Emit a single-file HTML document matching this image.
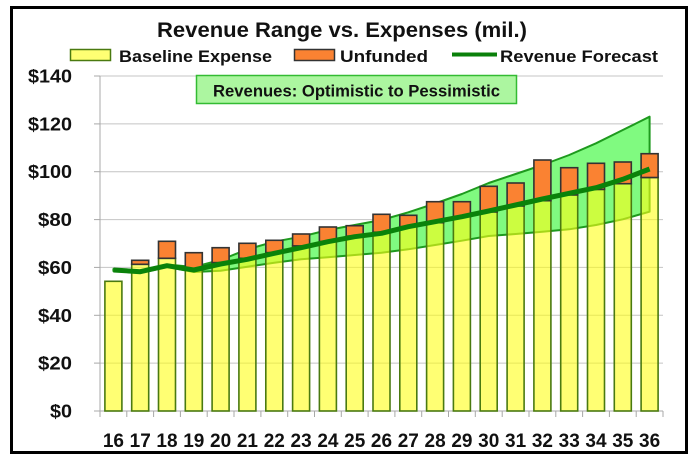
<!DOCTYPE html>
<html><head><meta charset="utf-8"><style>
html,body{margin:0;padding:0;background:#fff;}
svg{display:block;}
text{font-family:"Liberation Sans",Arial,sans-serif;font-weight:bold;fill:#111;}
</style></head><body>
<svg width="699" height="466" viewBox="0 0 699 466" xmlns="http://www.w3.org/2000/svg">
<rect x="0" y="0" width="699" height="466" fill="#fff"/>
<rect x="11.5" y="7.5" width="675" height="445" fill="#fff" stroke="#000" stroke-width="3"/>

<!-- title -->
<text x="157" y="37" font-size="21" textLength="370" lengthAdjust="spacingAndGlyphs">Revenue Range vs. Expenses (mil.)</text>

<!-- legend -->
<rect x="70.5" y="49.5" width="40" height="11" fill="#ffff73" stroke="#4a7a10" stroke-width="1.5"/>
<text x="119" y="62" font-size="17" textLength="153" lengthAdjust="spacingAndGlyphs">Baseline Expense</text>
<rect x="294.5" y="49.5" width="40" height="11" fill="#fa8232" stroke="#333" stroke-width="1.5"/>
<text x="340" y="62" font-size="17" textLength="88" lengthAdjust="spacingAndGlyphs">Unfunded</text>
<line x1="452" y1="54.5" x2="497" y2="54.5" stroke="#0a800a" stroke-width="4"/>
<text x="500" y="62" font-size="17" textLength="158" lengthAdjust="spacingAndGlyphs">Revenue Forecast</text>

<!-- gridlines -->
<g stroke="#c4c4c4" stroke-width="1">
<line x1="100" y1="76" x2="663" y2="76"/>
<line x1="100" y1="123.9" x2="663" y2="123.9"/>
<line x1="100" y1="171.7" x2="663" y2="171.7"/>
<line x1="100" y1="219.6" x2="663" y2="219.6"/>
<line x1="100" y1="267.4" x2="663" y2="267.4"/>
<line x1="100" y1="315.3" x2="663" y2="315.3"/>
<line x1="100" y1="363.1" x2="663" y2="363.1"/>
</g>
<!-- y axis ticks -->
<g stroke="#a8a8a8" stroke-width="1">
<line x1="100" y1="76" x2="100" y2="411"/>
<line x1="94" y1="76" x2="100" y2="76"/>
<line x1="94" y1="123.9" x2="100" y2="123.9"/>
<line x1="94" y1="171.7" x2="100" y2="171.7"/>
<line x1="94" y1="219.6" x2="100" y2="219.6"/>
<line x1="94" y1="267.4" x2="100" y2="267.4"/>
<line x1="94" y1="315.3" x2="100" y2="315.3"/>
<line x1="94" y1="363.1" x2="100" y2="363.1"/>
<line x1="94" y1="411" x2="663" y2="411"/>
</g>
<g stroke="#a8a8a8" stroke-width="1">
<line x1="100" y1="411" x2="100" y2="417"/><line x1="126.8" y1="411" x2="126.8" y2="417"/><line x1="153.6" y1="411" x2="153.6" y2="417"/><line x1="180.4" y1="411" x2="180.4" y2="417"/><line x1="207.2" y1="411" x2="207.2" y2="417"/><line x1="234" y1="411" x2="234" y2="417"/><line x1="260.9" y1="411" x2="260.9" y2="417"/><line x1="287.7" y1="411" x2="287.7" y2="417"/><line x1="314.5" y1="411" x2="314.5" y2="417"/><line x1="341.3" y1="411" x2="341.3" y2="417"/><line x1="368.1" y1="411" x2="368.1" y2="417"/><line x1="394.9" y1="411" x2="394.9" y2="417"/><line x1="421.7" y1="411" x2="421.7" y2="417"/><line x1="448.5" y1="411" x2="448.5" y2="417"/><line x1="475.3" y1="411" x2="475.3" y2="417"/><line x1="502.2" y1="411" x2="502.2" y2="417"/><line x1="529" y1="411" x2="529" y2="417"/><line x1="555.8" y1="411" x2="555.8" y2="417"/><line x1="582.6" y1="411" x2="582.6" y2="417"/><line x1="609.4" y1="411" x2="609.4" y2="417"/><line x1="636.2" y1="411" x2="636.2" y2="417"/><line x1="663" y1="411" x2="663" y2="417"/>
</g>

<!-- y labels -->
<g font-size="18.5" text-anchor="end">
<text x="72" y="82.5" textLength="44" lengthAdjust="spacingAndGlyphs">$140</text>
<text x="72" y="130.4" textLength="44" lengthAdjust="spacingAndGlyphs">$120</text>
<text x="72" y="178.2" textLength="44" lengthAdjust="spacingAndGlyphs">$100</text>
<text x="72" y="226.1" textLength="34" lengthAdjust="spacingAndGlyphs">$80</text>
<text x="72" y="273.9" textLength="34" lengthAdjust="spacingAndGlyphs">$60</text>
<text x="72" y="321.8" textLength="34" lengthAdjust="spacingAndGlyphs">$40</text>
<text x="72" y="369.6" textLength="34" lengthAdjust="spacingAndGlyphs">$20</text>
<text x="72" y="417.5" textLength="22" lengthAdjust="spacingAndGlyphs">$0</text>
</g>

<!-- band -->
<polygon fill="#80fa80" stroke="#1e9a1e" stroke-width="2" stroke-linejoin="round"
points="113.4,269 140.2,270.5 167,264.5 193.8,267 220.6,260 247.4,249.3 274.3,241.7 301.1,236.7 327.9,230 354.7,225 381.5,220 408.3,212.3 435.1,203.5 461.9,194 488.7,183 515.6,174 542.4,165 569.2,155 596,143.3 622.8,130 649.6,116.7 649.6,211.7 622.8,219.3 596,225 569.2,229.3 542.4,231.7 515.6,234 488.7,236 461.9,240.7 435.1,245 408.3,249.3 381.5,252.7 354.7,255 327.9,257.3 301.1,259.3 274.3,262.7 247.4,266.7 220.6,270.7 193.8,272 167,267 140.2,273 113.4,271"/>

<!-- yellow bars -->
<g fill="rgba(255,255,21,0.6)" stroke="#4a7a10" stroke-width="1.6">
<rect x="104.9" y="281.3" width="17" height="129.7"/>
<rect x="131.7" y="264.3" width="17" height="146.7"/>
<rect x="158.5" y="258.3" width="17" height="152.7"/>
<rect x="185.3" y="268.4" width="17" height="142.6"/>
<rect x="212.1" y="262.6" width="17" height="148.4"/>
<rect x="238.9" y="258.3" width="17" height="152.7"/>
<rect x="265.8" y="252.6" width="17" height="158.4"/>
<rect x="292.6" y="245.9" width="17" height="165.1"/>
<rect x="319.4" y="241.6" width="17" height="169.4"/>
<rect x="346.2" y="236.1" width="17" height="174.9"/>
<rect x="373" y="232.2" width="17" height="178.8"/>
<rect x="399.8" y="226.7" width="17" height="184.3"/>
<rect x="426.6" y="222.7" width="17" height="188.3"/>
<rect x="453.4" y="216.7" width="17" height="194.3"/>
<rect x="480.2" y="211.9" width="17" height="199.1"/>
<rect x="507.1" y="205.9" width="17" height="205.1"/>
<rect x="533.9" y="200.7" width="17" height="210.3"/>
<rect x="560.7" y="194.9" width="17" height="216.1"/>
<rect x="587.5" y="189.4" width="17" height="221.6"/>
<rect x="614.3" y="183.7" width="17" height="227.3"/>
<rect x="641.1" y="177.5" width="17" height="233.5"/>
</g>
<!-- orange bars -->
<g fill="#fa8232" stroke="#333" stroke-width="1.6">
<rect x="131.7" y="260.3" width="17" height="4"/>
<rect x="158.5" y="241.3" width="17" height="17"/>
<rect x="185.3" y="252.7" width="17" height="15.7"/>
<rect x="212.1" y="247.7" width="17" height="14.9"/>
<rect x="238.9" y="243.3" width="17" height="15"/>
<rect x="265.8" y="240.3" width="17" height="12.3"/>
<rect x="292.6" y="234" width="17" height="11.9"/>
<rect x="319.4" y="227" width="17" height="14.6"/>
<rect x="346.2" y="225.7" width="17" height="10.4"/>
<rect x="373" y="214.3" width="17" height="17.9"/>
<rect x="399.8" y="215.3" width="17" height="11.4"/>
<rect x="426.6" y="201.7" width="17" height="21"/>
<rect x="453.4" y="201.7" width="17" height="15"/>
<rect x="480.2" y="186.3" width="17" height="25.6"/>
<rect x="507.1" y="183" width="17" height="22.9"/>
<rect x="533.9" y="160" width="17" height="40.7"/>
<rect x="560.7" y="167.7" width="17" height="27.2"/>
<rect x="587.5" y="163.3" width="17" height="26.1"/>
<rect x="614.3" y="162" width="17" height="21.7"/>
<rect x="641.1" y="153.7" width="17" height="23.8"/>
</g>

<!-- forecast line -->
<polyline fill="none" stroke="#0a820a" stroke-width="5" stroke-linejoin="round" stroke-linecap="butt"
points="113.4,270 140.2,271.7 167,265.7 193.8,270 220.6,264 247.4,259.3 274.3,253.3 301.1,247.7 327.9,241.7 354.7,236.7 381.5,233.3 408.3,226.7 435.1,221.7 461.9,216.7 488.7,211 515.6,205 542.4,199 569.2,193.3 596,187.7 622.8,179.3 649.6,169"/>

<!-- label box -->
<rect x="196.5" y="75.5" width="320" height="28" fill="#acf6a0" stroke="#33bb33" stroke-width="1.5"/>
<text x="213" y="96.5" font-size="17" textLength="287" lengthAdjust="spacingAndGlyphs">Revenues: Optimistic to Pessimistic</text>

<!-- x labels -->
<g font-size="19" text-anchor="middle">
<text x="113.4" y="447">16</text><text x="140.2" y="447">17</text><text x="167" y="447">18</text><text x="193.8" y="447">19</text><text x="220.6" y="447">20</text><text x="247.4" y="447">21</text><text x="274.3" y="447">22</text><text x="301.1" y="447">23</text><text x="327.9" y="447">24</text><text x="354.7" y="447">25</text><text x="381.5" y="447">26</text><text x="408.3" y="447">27</text><text x="435.1" y="447">28</text><text x="461.9" y="447">29</text><text x="488.7" y="447">30</text><text x="515.6" y="447">31</text><text x="542.4" y="447">32</text><text x="569.2" y="447">33</text><text x="596" y="447">34</text><text x="622.8" y="447">35</text><text x="649.6" y="447">36</text>
</g>
</svg>
</body></html>
